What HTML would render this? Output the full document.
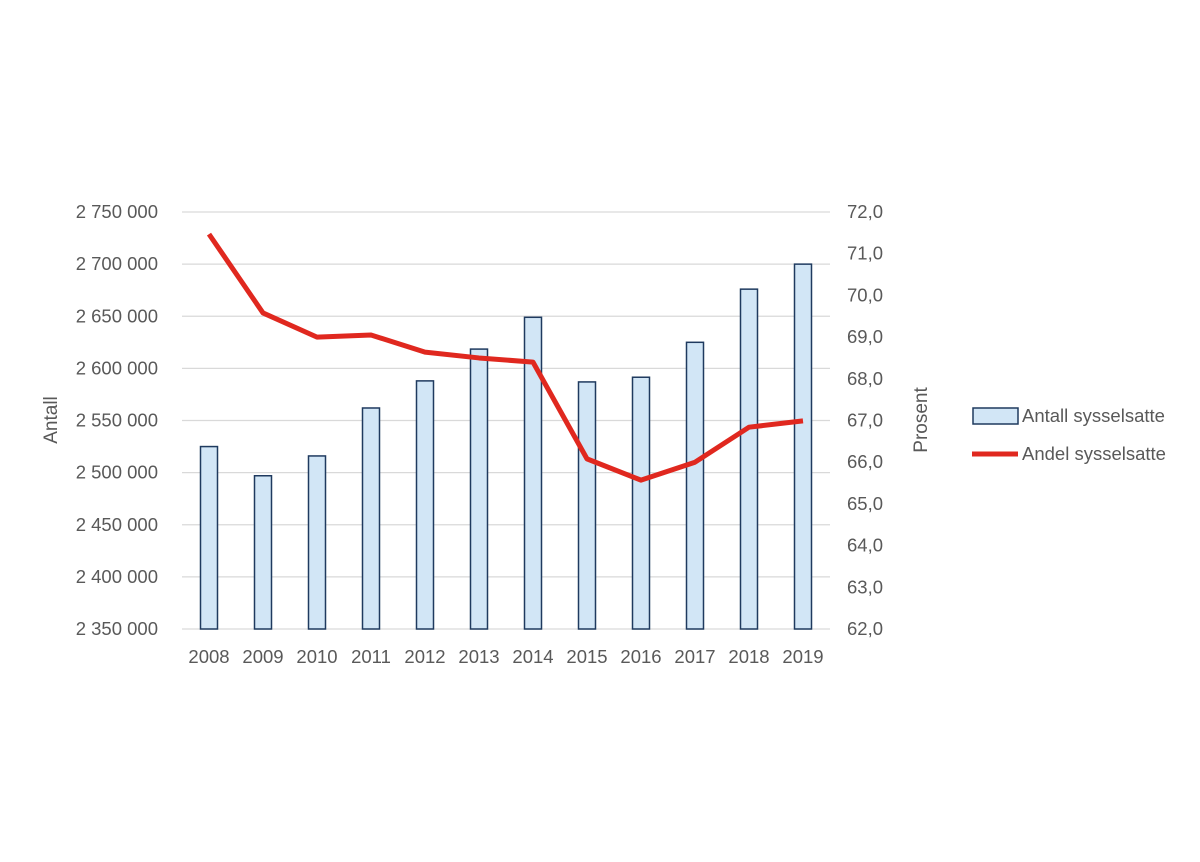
<!DOCTYPE html>
<html><head><meta charset="utf-8"><style>
body{margin:0;background:#fff;width:1200px;height:857px;overflow:hidden}
text{font-family:"Liberation Sans",sans-serif;fill:#595959;font-size:18.5px}
</style></head><body>
<svg id="chart" width="1200" height="857" xmlns="http://www.w3.org/2000/svg">
<g id="grid"></g><g id="bars"></g><g id="line"></g><g id="axes"></g>
<g>
<rect x="973" y="408" width="45" height="16" fill="#d2e6f6" stroke="#1f3a5f" stroke-width="1.5"/>
<text x="1022" y="422">Antall sysselsatte</text>
<line x1="972" y1="454" x2="1018" y2="454" stroke="#e0281f" stroke-width="5"/>
<text x="1022" y="460">Andel sysselsatte</text>
</g>
</svg>
<script>
const years=["2008","2009","2010","2011","2012","2013","2014","2015","2016","2017","2018","2019"];
const antall=[2525000,2497000,2516000,2562000,2588000,2618500,2649000,2587000,2591500,2625000,2676000,2700000];
const andel=[71.47,69.58,69.0,69.05,68.64,68.5,68.4,66.08,65.57,66.0,66.84,66.99];
const leftTicks=[2350000,2400000,2450000,2500000,2550000,2600000,2650000,2700000,2750000];
const rightTicks=[62,63,64,65,66,67,68,69,70,71,72];
const NS="http://www.w3.org/2000/svg";
const yTop=212,yBot=629,x0=182,x1=830;
const yL=v=>yBot-(v-2350000)/400000*(yBot-yTop);
const yR=v=>yBot-(v-62)/10*(yBot-yTop);
const step=(x1-x0)/years.length;
const xC=i=>x0+step*(i+0.5);
function mk(tag,attrs,parent,txt){const e=document.createElementNS(NS,tag);for(const k in attrs)e.setAttribute(k,attrs[k]);if(txt!==undefined)e.textContent=txt;document.getElementById(parent).appendChild(e);return e;}
leftTicks.forEach(t=>{
 const g=mk('line',{x1:x0,x2:x1,y1:yL(t),y2:yL(t),stroke:'#d9d9d9','stroke-width':1.3},'grid');
 
 
 const s=String(t).replace(/\B(?=(\d{3})+(?!\d))/g,' ');
 const l=mk('text',{x:158,y:yL(t)+6,'text-anchor':'end'},'axes',s);
 
 
});
rightTicks.forEach(t=>{
 const l=mk('text',{x:847,y:yR(t)+6},'axes',t.toFixed(1).replace('.',','));
 
 
});
years.forEach((y,i)=>{
 const b=mk('rect',{x:xC(i)-8.5,y:yL(antall[i]),width:17,height:yBot-yL(antall[i]),fill:'#d2e6f6',stroke:'#1f3a5f','stroke-width':1.5},'bars');
 
 
 const l=mk('text',{x:xC(i),y:663,'text-anchor':'middle'},'axes',y);
 
 
});
const p=mk('polyline',{points:andel.map((v,i)=>xC(i)+','+yR(v)).join(' '),fill:'none',stroke:'#e0281f','stroke-width':5,'stroke-linejoin':'round'},'line');


const a=mk('text',{x:0,y:0,transform:'translate(57,420) rotate(-90)','text-anchor':'middle',style:'font-size:19px'},'axes','Antall');


const r=mk('text',{x:0,y:0,transform:'translate(927,420) rotate(-90)','text-anchor':'middle',style:'font-size:19px'},'axes','Prosent');


</script>
</body></html>
